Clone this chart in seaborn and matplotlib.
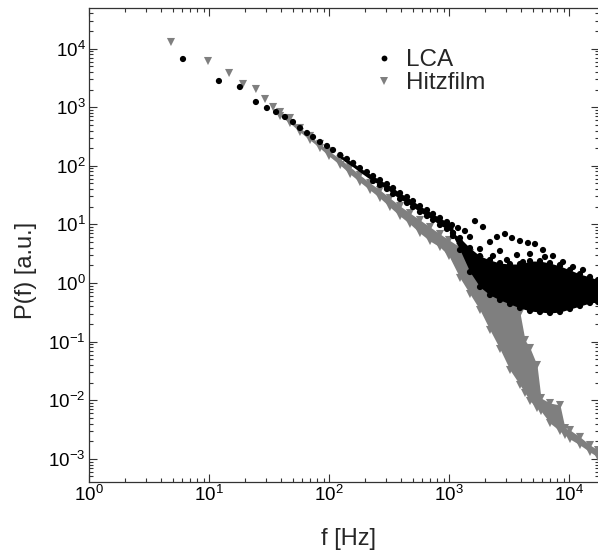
import matplotlib
matplotlib.use("Agg")
import matplotlib.pyplot as plt
from matplotlib.ticker import LogLocator, NullFormatter
from matplotlib.lines import Line2D
import numpy as np
import pandas as pd
import seaborn as sns

# ---------------- data ----------------
# LCA: low-frequency bins
lca_low_f = [6.07, 12.1, 18.1, 24.6, 30.4, 36.2]
lca_low_p = [6645, 2800, 2212, 1227, 969, 828]
# LCA: points running along the top of the common power-law band
lca_line_f = [43.0, 50.1, 57.3, 65.6, 73.6, 84.1, 96.2, 108, 124, 141, 159, 181, 207,
              233, 266, 304, 342, 391, 447, 501, 573, 656, 736, 841, 962,
              233, 266, 304, 342, 391, 447, 501, 573, 656, 736, 841, 962, 1080]
lca_line_p = [681, 559, 442, 363, 310, 255, 218, 186, 153, 131, 112, 91.7, 78.4,
              67.0, 57.2, 48.9, 41.8, 34.3, 29.4, 25.1, 20.6, 17.6, 15.1, 12.9, 11.0,
              55.0, 47.0, 40.2, 33.0, 27.1, 23.2, 19.8, 16.3, 13.9, 11.9, 9.77, 8.35, 7.13]
# LCA: densely packed strip (upper / lower edge) along the band, 120 Hz - 1 kHz
lca_strip_f = [124, 141, 159, 181, 207, 233, 266, 304, 342, 391, 447, 501, 573, 656,
               736, 841, 962, 1080]
lca_strip_hi = [153, 131, 112, 91.7, 78.4, 67.0, 57.2, 48.9, 41.8, 34.3, 29.4, 25.1,
                20.6, 17.6, 15.1, 12.9, 11.0, 10.2]
lca_strip_lo = [136, 112, 95.4, 78.4, 64.4, 55.0, 47.0, 40.2, 33.0, 27.1, 23.2, 19.8,
                16.3, 13.9, 11.9, 9.77, 8.35, 7.13]
# LCA: scattered points of the high-frequency hump
lca_hump_f = [1059, 1189, 1359, 1647, 1920, 1496, 1235, 1813, 2196, 2512, 2929, 3350,
              3906, 4553, 5209, 6072, 7356, 8913, 10798, 13080, 2326, 2661, 3687, 4732,
              4137, 2073, 1711, 3043, 6310, 8414]
lca_hump_p = [9.77, 8.68, 7.72, 11.4, 9.03, 6.10, 5.01, 3.80, 5.01, 6.10, 6.86, 5.86,
              5.21, 4.82, 4.63, 3.66, 2.89, 2.28, 1.875, 1.67, 2.89, 3.52, 3.00, 3.13,
              2.28, 2.28, 2.67, 2.47, 2.78, 2.03]
# LCA: dense cloud (upper / lower edge of the densely packed points)
lca_band_f = [1080, 1235, 1496, 1813, 2196, 2661, 3224, 3906, 4732, 5733, 6945, 8414,
              10194, 12350, 14962, 17447]
lca_band_hi = [7.13, 5.86, 3.96, 2.89, 2.47, 2.19, 2.11, 2.11, 2.37, 2.37, 2.19, 1.95,
               1.67, 1.42, 1.27, 1.125]
lca_band_lo = [6.34, 3.66, 1.54, 0.855, 0.624, 0.513, 0.438, 0.3745, 0.333, 0.320, 0.308,
               0.320, 0.360, 0.405, 0.456, 0.474]

# Hitzfilm: low-frequency bins
hitz_low_f = [4.82, 9.81, 14.7, 19.2, 24.6, 29.3, 34.2]
hitz_low_p = [12960, 6142, 3834, 2489, 2045, 1380, 1008]
# Hitzfilm: dense band (upper / lower edge)
hitz_band_f = [39.1, 47.3, 57.3, 69.5, 84.1, 100, 124, 150, 181, 220, 266, 322, 391, 473,
               573, 695, 841, 1000, 1235, 1496, 1813, 2196, 2661, 3224, 3906, 4299, 4732,
               5412, 5843, 6945, 8414, 9261, 10194, 12350, 14962, 17447]
hitz_band_hi = [828, 654, 442, 323, 236, 179, 131, 95.4, 69.7, 50.9, 38.6, 28.2, 20.6, 15.6,
                11.9, 9.03, 6.86, 5.42, 4.11, 3.25, 2.47, 1.80, 1.37, 0.675, 0.308, 0.1065,
                0.0778, 0.0399, 0.0109, 0.00896, 0.00828, 0.00335, 0.0031, 0.00236,
                0.00172, 0.00141]
hitz_band_lo = [708, 537, 378, 276, 201, 147, 103, 72.5, 52.9, 38.6, 28.2, 19.8, 13.9, 10.2,
                7.13, 5.21, 4.11, 2.89, 1.22, 0.649, 0.346, 0.158, 0.0748, 0.0328, 0.0182,
                0.0133, 0.00969, 0.00736, 0.00654, 0.00408, 0.00298, 0.00255, 0.00218,
                0.00172, 0.00131, 0.00107]

series_labels = ["LCA", "Hitzfilm"]
x_label = "f [Hz]"
y_label = "P(f) [a.u.]"

GRAY = "#7f7f7f"

# ---------------- style ----------------
sns.set_style("ticks")
plt.rcParams.update({
    "font.family": ["Liberation Sans", "DejaVu Sans"],
    "mathtext.fontset": "custom",
    "mathtext.rm": "Liberation Sans",
    "mathtext.it": "Liberation Sans:italic",
    "mathtext.bf": "Liberation Sans:bold",
    "mathtext.default": "regular",
    "axes.edgecolor": "#333333",
    "axes.linewidth": 0.9,
    "xtick.color": "#333333",
    "ytick.color": "#333333",
    "xtick.labelcolor": "black",
    "ytick.labelcolor": "black",
})

fig = plt.figure(figsize=(5.98, 5.59), dpi=100)
ax = fig.add_axes([89 / 598, (559 - 481.7) / 559, 509.5 / 598, 473.4 / 559])
ax.set_xscale("log")
ax.set_yscale("log")

hitz_df = pd.DataFrame({
    "f": hitz_low_f + hitz_band_f + hitz_band_f,
    "P": hitz_low_p + hitz_band_hi + hitz_band_lo,
})
lca_df = pd.DataFrame({
    "f": lca_low_f + lca_line_f + lca_hump_f + lca_band_f + lca_band_f,
    "P": lca_low_p + lca_line_p + lca_hump_p + lca_band_hi + lca_band_lo,
})

# Hitzfilm (grey triangles)
ax.fill_between(hitz_band_f, hitz_band_lo, hitz_band_hi, color=GRAY, lw=0, zorder=1)
sns.scatterplot(data=hitz_df, x="f", y="P", marker="v", s=34, color=GRAY,
                edgecolor="none", linewidth=0, ax=ax, zorder=2, legend=False)
# LCA (black dots)
ax.fill_between(lca_strip_f, lca_strip_lo, lca_strip_hi, color="black", lw=0, zorder=3)
ax.fill_between(lca_band_f, lca_band_lo, lca_band_hi, color="black", lw=0, zorder=3)
sns.scatterplot(data=lca_df, x="f", y="P", marker="o", s=20, color="black",
                edgecolor="none", linewidth=0, ax=ax, zorder=4, legend=False)

ax.set_xlim(1, 17615)
ax.set_ylim(4.07e-4, 48720)

ax.xaxis.set_major_locator(LogLocator(base=10, numticks=20))
ax.yaxis.set_major_locator(LogLocator(base=10, numticks=20))
ax.xaxis.set_minor_locator(LogLocator(base=10, subs=np.arange(2, 10), numticks=100))
ax.yaxis.set_minor_locator(LogLocator(base=10, subs=np.arange(2, 10), numticks=100))
ax.xaxis.set_minor_formatter(NullFormatter())
ax.yaxis.set_minor_formatter(NullFormatter())

ax.tick_params(which="both", direction="in", top=True, right=True, width=0.8)
ax.tick_params(which="major", length=5.5, labelsize=13.5, pad=2.5)
ax.tick_params(which="minor", length=2.8)

ax.set_xlabel(x_label, fontsize=17)
ax.set_ylabel(y_label, fontsize=17)
ax.xaxis.set_label_coords(0.509, -0.097)
ax.yaxis.set_label_coords(-0.102, 0.447)

handles = [
    Line2D([], [], linestyle="none", marker="o", markersize=4.2, color="black",
           markeredgewidth=0),
    Line2D([], [], linestyle="none", marker="v", markersize=5.5, color=GRAY,
           markeredgewidth=0),
]
ax.legend(handles, series_labels, loc="upper left", bbox_to_anchor=(0.56, 0.914),
          frameon=False, fontsize=17.5, handlelength=0.8, handletextpad=0.5,
          labelspacing=0.05, borderpad=0, borderaxespad=0)

fig.savefig("out.png", dpi=100)
